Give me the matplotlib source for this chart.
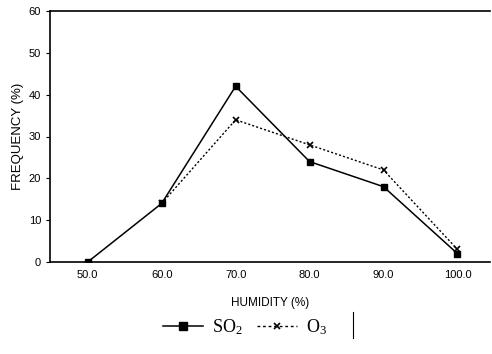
import matplotlib
matplotlib.use("Agg")
import matplotlib.pyplot as plt
from matplotlib.lines import Line2D

humidity_so2 = [50, 60, 70, 80, 90, 100]
so2 = [0, 14, 42, 24, 18, 2]
humidity_o3 = [60, 70, 80, 90, 100]
o3 = [14, 34, 28, 22, 3]
xticks = [50, 60, 70, 80, 90, 100]
xticklabels = ["50.0", "60.0", "70.0", "80.0", "90.0", "100.0"]
yticks = [0, 10, 20, 30, 40, 50, 60]

plt.rcParams['font.family'] = ['Liberation Sans', 'DejaVu Sans']
plt.rcParams['mathtext.fontset'] = 'custom'
plt.rcParams['mathtext.rm'] = 'Liberation Serif'
plt.rcParams['mathtext.it'] = 'Liberation Serif:italic'
fig = plt.figure(figsize=(4.92, 3.54), dpi=100)
ax = fig.add_axes([50/492, 92/354, 440/492, 251/354])

ax.plot(humidity_so2, so2, color='black', lw=1.1, marker='s', ms=5, mfc='black', mec='black', zorder=3)
ax.plot(humidity_o3, o3, color='black', lw=1.0, ls=(0, (1.5, 1.5)), marker='x', ms=4, mew=1.2, zorder=3)

ax.set_xlim(44.9, 104.4)
ax.set_ylim(0, 60)
ax.set_xticks(xticks)
ax.set_xticklabels(xticklabels)
ax.set_yticks(yticks)
ax.tick_params(axis='both', labelsize=8, colors='black', length=3, width=0.8)
ax.tick_params(axis='x', length=0, pad=6)
ax.spines['right'].set_visible(False)
for s in ['left', 'bottom', 'top']:
    ax.spines[s].set_linewidth(1.2)
ax.set_xlabel('HUMIDITY (%)', fontsize=8.5, labelpad=12)
ax.set_ylabel('FREQUENCY (%)', fontsize=9.5, labelpad=3)

handles = [
    Line2D([], [], color='black', lw=1.1, marker='s', ms=6, mfc='black'),
    Line2D([], [], color='black', lw=1.0, ls=(0, (2, 2)), marker='x', ms=4, mew=1.2),
]
leg = fig.legend(handles, [r'$\mathrm{SO}_2$', r'$\mathrm{O}_3$'], loc='center',
                 bbox_to_anchor=(245/492, 1 - 327/354),
                 ncol=2, frameon=False, prop={'family': 'Liberation Serif', 'size': 13},
                 handlelength=2.2, handletextpad=0.5, columnspacing=0.8)
fig.add_artist(Line2D([353/492, 353/492], [1 - 312/354, 1 - 338/354], color='black', lw=0.8))

fig.savefig('out.png', dpi=100)
